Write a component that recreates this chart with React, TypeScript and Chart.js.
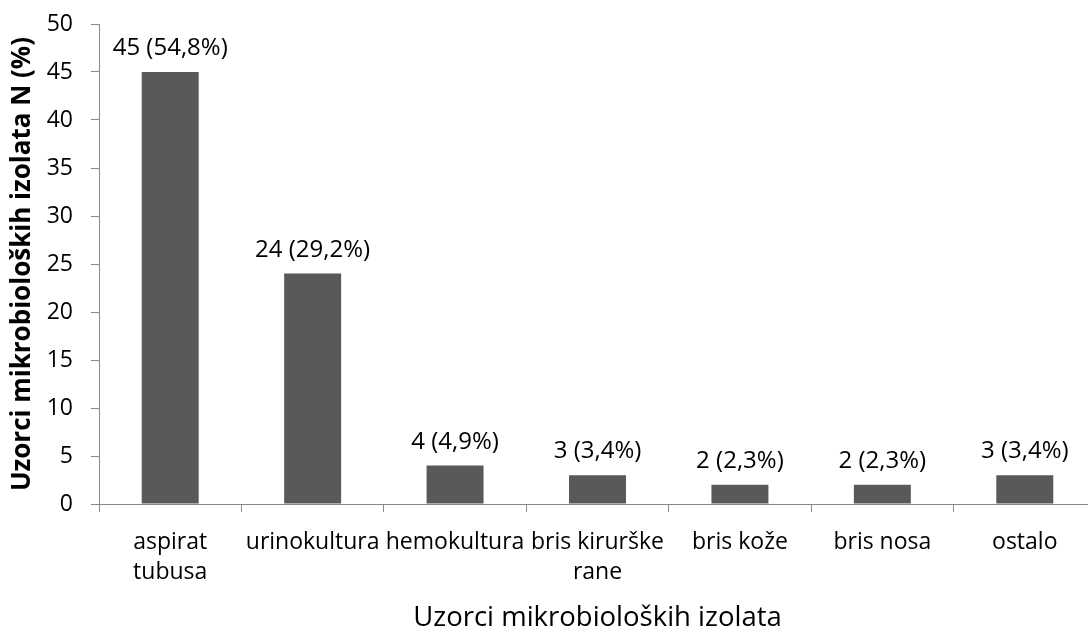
import React, { useEffect, useRef } from "react";
import { Chart, registerables } from "chart.js";

Chart.register(...registerables);

const categories: (string | string[])[] = [
  ["aspirat", "tubusa"],
  "urinokultura",
  "hemokultura",
  ["bris kirurške", "rane"],
  "bris kože",
  "bris nosa",
  "ostalo",
];
const counts = [45, 24, 4, 3, 2, 2, 3];
const pointLabels = [
  "45 (54,8%)",
  "24 (29,2%)",
  "4 (4,9%)",
  "3 (3,4%)",
  "2 (2,3%)",
  "2 (2,3%)",
  "3 (3,4%)",
];
const yTitle = "Uzorci mikrobioloških izolata N (%)";
const xTitle = "Uzorci mikrobioloških izolata";

const FONT = "'Open Sans', sans-serif";
const AXIS = "#898989";

const valueLabels = {
  id: "valueLabels",
  afterDatasetsDraw(chart: any) {
    const ctx = chart.ctx;
    const meta = chart.getDatasetMeta(0);
    ctx.save();
    ctx.font = `24px ${FONT}`;
    ctx.fillStyle = "#000";
    ctx.textAlign = "center";
    ctx.textBaseline = "alphabetic";
    meta.data.forEach((bar: any, i: number) => {
      ctx.fillText(pointLabels[i], bar.x, bar.y - 17);
    });
    ctx.restore();
  },
};

export default function App() {
  const ref = useRef<HTMLCanvasElement>(null);
  useEffect(() => {
    if (!ref.current) return;
    const chart = new Chart(ref.current, {
      type: "bar",
      data: {
        labels: categories,
        datasets: [
          {
            data: counts,
            backgroundColor: "#595959",
            borderWidth: 0,
            categoryPercentage: 1,
            barPercentage: 0.4,
          },
        ],
      },
      options: {
        responsive: false,
        animation: false,
        devicePixelRatio: 1,
        layout: { padding: { left: 0, top: 24, right: 14, bottom: 0 } },
        plugins: {
          legend: { display: false },
          tooltip: { enabled: false },
        },
        scales: {
          x: {
            grid: {
              display: true,
              drawOnChartArea: false,
              drawTicks: true,
              tickLength: 8,
              color: AXIS,
              offset: true,
            },
            border: { color: AXIS, width: 1 },
            ticks: {
              color: "#000",
              font: { family: FONT, size: 23, lineHeight: 1.304 },
              padding: 15,
              maxRotation: 0,
              autoSkip: false,
            },
            title: {
              display: true,
              text: xTitle,
              color: "#000",
              font: { family: FONT, size: 27.5 },
              padding: { top: 0, bottom: -4 },
            },
            afterFit: (s: any) => {
              s.height = 127;
            },
          },
          y: {
            min: 0,
            max: 50,
            grid: {
              display: true,
              drawOnChartArea: false,
              drawTicks: true,
              tickLength: 8,
              color: AXIS,
            },
            border: { color: AXIS, width: 1 },
            ticks: {
              stepSize: 5,
              color: "#000",
              font: { family: FONT, size: 23 },
              padding: 18,
            },
            title: {
              display: true,
              text: yTitle,
              color: "#000",
              font: { family: FONT, size: 26, weight: "bold" },
              padding: { top: 7, bottom: 0 },
            },
            afterFit: (s: any) => {
              s.width = 99;
              s.paddingTop = 0;
              s.paddingBottom = 0;
            },
          },
        },
      },
      plugins: [valueLabels],
    });
    return () => chart.destroy();
  }, []);
  return (
    <div
      style={{
        position: "absolute",
        left: 0,
        top: 0,
        width: 1088,
        height: 631,
        overflow: "hidden",
        background: "#fff",
      }}
    >
      <canvas ref={ref} width={1110} height={631} style={{ display: "block" }} />
    </div>
  );
}
